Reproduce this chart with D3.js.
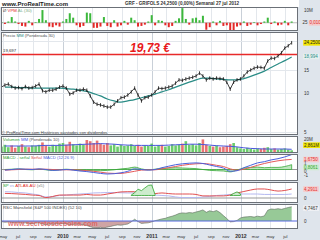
<!DOCTYPE html>
<html>
<head>
<meta charset="utf-8">
<script src="https://cdn.jsdelivr.net/npm/d3@7"></script>
<style>
body { margin: 0; background: #dfe5ec; }
svg { display: block; font-family: "Liberation Sans", Arial, sans-serif; }
</style>
</head>
<body>
<div class="grafico"></div>
<script>
// Datos GRF - GRIFOLS semanal (un punto cada 2 semanas)
var inicio = new Date(2009, 3, 24);
var etiquetasMes = ["ene", "feb", "mar", "abr", "may", "jun", "jul", "ago", "sep", "oct", "nov", "dic"];

var precio = [11.1, 11.5, 11.7, 11.2, 10.9, 11.0, 10.8, 11.2, 10.9, 11.0,
    11.3, 11.7, 10.4, 10.2, 10.5, 10.5, 10.7, 11.1, 11.3, 10.9,
    9.8, 10.0, 10.5, 10.5, 10.7, 10.5, 9.5, 8.5, 8.2, 8.1,
    7.95, 7.8, 7.8, 8.2, 8.7, 9.2, 9.3, 9.65, 10.2, 10.9,
    9.65, 8.7, 9.2, 9.3, 9.65, 10.2, 10.9, 10.8, 10.9, 11.1,
    11.3, 11.9, 12.6, 12.5, 12.8, 13.0, 13.2, 13.5, 14.2, 13.5,
    12.6, 13.0, 12.8, 13.0, 12.9, 12.8, 12.1, 10.7, 12.1, 12.6,
    12.8, 13.5, 14.5, 15.0, 15.5, 15.8, 15.7, 15.5, 17.6, 18.5,
    18.4, 19.2, 20.3, 22.1, 23.0, 24.25];
var vpm = [0.5, -1, 1, 4.5, 1, -1, -2.5, -3, 1.5, -2,
    0.5, 3, 10, 2, -3, -3.5, -2, -3, 1, 3,
    7.5, 4, -2, -3.5, -2.5, 8, 7.5, -4, -4, -3,
    4.5, -2.5, -3.5, 2, -3, -2, 1.5, -1.5, 4, 2,
    -3, -2.5, -1.5, 1, 6, -2, 2, 1.5, -2, -3.5,
    -2.5, 1.5, 3.5, 11.5, 3, -1.5, 3.5, 4, 2, 5.5,
    -5.5, -3.5, 1, -2, 1.5, -2.5, -2, -6.5, -7, -3,
    -2, 1, -2.5, -1.5, 0.5, -2, -1, 1, 4, -1,
    1, -2, -1.5, 1.5, -2, 1];
var volumen = [9, 12, 8, 11, 7, 10, 13, 9, 8, 11,
    10, 12, 16, 11, 9, 12, 10, 14, 15, 12,
    17, 13, 11, 14, 12, 20, 18, 15, 19, 14,
    12, 15, 11, 13, 9, 12, 10, 11, 13, 10,
    12, 9, 11, 10, 14, 9, 11, 12, 9, 10,
    13, 11, 12, 14, 18, 12, 13, 11, 15, 21,
    12, 10, 9, 11, 8, 9, 10, 13, 15, 8,
    6, 5, 7, 5, 4, 6, 5, 7, 8, 5,
    6, 4, 5, 6, 4, 2.861];
var rsc = [-0.2, -0.4, -0.3, -0.5, -0.6, -0.4, -0.7, -0.6, -0.8, -0.9,
    -0.7, -0.6, -1.0, -1.2, -1.0, -1.1, -0.9, -1.0, -0.8, -0.9,
    -1.3, -1.2, -1.0, -1.1, -1.3, -1.5, -1.9, -2.2, -2.3, -2.1,
    -2.3, -2.0, -1.8, -1.5, -1.3, -1.4, -1.2, -1.0, -0.3, 0.6,
    -0.2, -0.8, -0.7, -0.6, -0.3, 0.1, 0.4, 0.7, 0.9, 1.3,
    1.6, 2.0, 2.5, 2.7, 2.6, 2.8, 2.7, 3.0, 3.3, 3.7,
    2.9, 3.4, 3.1, 3.5, 2.8, 1.8, 0.8, -0.3, -0.2, 0.2,
    1.0, 1.3, 1.4, 1.5, 1.3, 1.6, 1.4, 1.7, 3.6, 4.0,
    3.9, 4.1, 3.9, 4.2, 4.5, 4.7467];

// Series suaves, un punto cada 4 semanas
var mediaPrecio = [11.1, 11.1, 11.0, 11.0, 10.9, 10.9, 10.9, 10.9, 10.9, 10.8,
    10.7, 10.5, 10.3, 9.9, 9.5, 9.0, 8.7, 8.5, 8.7, 8.9,
    9.2, 9.5, 9.8, 10.2, 10.6, 11.1, 11.6, 12.1, 12.6, 13.0,
    13.0, 12.8, 12.7, 12.6, 12.6, 12.9, 13.4, 14.0, 14.7, 15.7,
    16.7, 17.7, 18.9];
var mediaVolumen = [10, 10, 10, 10, 10, 10.5, 11, 11, 11, 11.5,
    12, 12.5, 13, 13.5, 14, 13.5, 13, 12, 11.5, 11,
    11, 11, 11, 11, 11.5, 12, 12.5, 13, 13, 12.5,
    11.5, 10.5, 10, 9.5, 8.5, 7, 6, 5.5, 5, 5,
    5, 5, 4.5];
var macd = [-0.1, 0.0, 0.1, 0.05, 0.0, 0.1, 0.0, -0.15, -0.1, 0.0,
    -0.1, -0.25, -0.35, -0.5, -0.65, -0.75, -0.7, -0.55, -0.3, 0.1,
    0.0, -0.1, 0.0, 0.3, 0.55, 0.8, 0.95, 1.05, 1.1, 1.0,
    0.75, 0.5, 0.25, -0.3, -0.2, 0.3, 0.7, 1.1, 1.3, 1.6,
    1.8, 2.1, 2.48];
var senal = [-0.1, -0.05, 0.0, 0.05, 0.05, 0.05, 0.05, 0.0, -0.05, -0.05,
    -0.05, -0.1, -0.2, -0.3, -0.45, -0.6, -0.65, -0.65, -0.5, -0.3,
    -0.1, -0.05, -0.05, 0.1, 0.3, 0.5, 0.7, 0.85, 0.95, 1.0,
    0.9, 0.7, 0.5, 0.1, -0.1, 0.05, 0.35, 0.7, 1.0, 1.25,
    1.45, 1.6, 1.675];
var histMacd = [0, 0.05, 0.1, 0, -0.05, 0.05, -0.05, -0.15, -0.05, 0.05,
    -0.05, -0.15, -0.15, -0.2, -0.2, -0.15, -0.05, 0.1, 0.2, 0.4,
    0.1, -0.05, 0.05, 0.2, 0.25, 0.3, 0.25, 0.2, 0.15, 0.0,
    -0.15, -0.2, -0.25, -0.4, -0.1, 0.25, 0.35, 0.4, 0.3, 0.35,
    0.35, 0.5, 0.8061];
var atlasRojo = [2.2, 2.1, 1.9, 1.7, 1.4, 1.2, 0.2, 0.7, 1.4, 1.4,
    1.4, 1.4, 1.7, 1.4, 1.4, 1.9, 2.4, 2.9, 3.0, 3.0,
    2.6, 1.9, 2.1, 2.4, 2.1, 1.9, 1.9, 1.9, 1.7, 1.0,
    1.0, 1.0, 1.0, 1.4, 2.4, 3.1, 3.8, 4.3, 4.3, 3.8,
    3.3, 3.6, 4.2911];
var atlasAzul = [3.0, 2.9, 2.6, 2.4, 1.9, 1.4, 0.5, 0.7, 1.2, 1.4,
    1.7, 1.9, 2.1, 2.4, 2.5, 2.6, 2.6, 2.5, 2.4, 2.4,
    1.9, 1.7, 1.4, 1.2, 1.0, 0.5, 0.2, 0.2, 0.2, 0.5,
    0.7, 1.2, 1.4, 1.7, 1.9, 1.9, 1.9, 1.9, 1.7, 1.7,
    1.7, 1.7, 1.9];
// tramos verdes del SP (indice de la quincena donde empiezan)
var spVerde1Desde = 38, spVerde1 = [1.4, 2.5, 4.2, 3.5, 4.8, 6.0, 6.2, 1.6];
var spVerde2Desde = 67, spVerde2 = [1.2, 2.2, 2.9, 2.0];

var nivel = 19.73; // linea horizontal roja
var nivelEtiqueta = "19,697";

var fmt = d3.formatLocale({ decimal: ",", thousands: ".", grouping: [3], currency: ["", "€"] });

var fechas2 = precio.map(function(d, i) { return d3.timeDay.offset(inicio, 14 * i); });
var fechas4 = macd.map(function(d, k) { return d3.timeDay.offset(inicio, 14 + 28 * k); });

var svg = d3.select(".grafico").append("svg")
    .attr("width", 320)
    .attr("height", 240);

svg.append("rect").attr("width", 320).attr("height", 240).attr("fill", "#dfe5ec");
svg.append("rect").attr("x", 0).attr("y", 0).attr("width", 299).attr("height", 7).attr("fill", "#ffffff");

var x = d3.scaleTime()
    .domain([new Date(2009, 3, 22), new Date(2012, 7, 22)])
    .range([1, 298]);

var paneles = [
    { id: "vpm", y0: 7, y1: 31 },
    { id: "precio", y0: 32, y1: 135 },
    { id: "vol", y0: 136, y1: 153 },
    { id: "macd", y0: 154, y1: 181 },
    { id: "sp", y0: 182, y1: 203 },
    { id: "rsc", y0: 204, y1: 229 }
];

var meses = d3.timeMonth.range(new Date(2009, 4, 1), new Date(2012, 7, 2), 2);

var defs = svg.append("defs");
var capas = {};
paneles.forEach(function(p) {
    svg.append("rect")
        .attr("x", 1).attr("y", p.y0)
        .attr("width", 297).attr("height", p.y1 - p.y0)
        .attr("fill", "#ffffff");
    defs.append("clipPath").attr("id", "clip-" + p.id)
        .append("rect").attr("x", 1).attr("y", p.y0).attr("width", 297).attr("height", p.y1 - p.y0);
    var g = svg.append("g").attr("clip-path", "url(#clip-" + p.id + ")");
    // rejilla vertical cada 2 meses
    g.selectAll("line.vgrid")
        .data(meses)
        .enter().append("line")
        .attr("x1", function(d) { return Math.round(x(d)) + 0.5; })
        .attr("x2", function(d) { return Math.round(x(d)) + 0.5; })
        .attr("y1", p.y0).attr("y2", p.y1)
        .attr("stroke", function(d) { return d.getMonth() === 0 ? "#c9d0d8" : "#e3e7ec"; })
        .attr("stroke-width", 1);
    capas[p.id] = g;
});

// ---------- Panel VPM ----------
var yVpm = d3.scaleLinear().domain([-6.5, 12.5]).range([31, 6.9]);
capas.vpm.append("line")
    .attr("x1", 1).attr("x2", 298)
    .attr("y1", yVpm(0)).attr("y2", yVpm(0))
    .attr("stroke", "#bbbbbb");
capas.vpm.selectAll("rect.vpm")
    .data(vpm)
    .enter().append("rect")
    .attr("x", function(d, i) { return x(fechas2[i]) - 1; })
    .attr("width", 2)
    .attr("y", function(d) { return Math.min(yVpm(d), yVpm(0)); })
    .attr("height", function(d) { return Math.abs(yVpm(d) - yVpm(0)); })
    .attr("fill", function(d) { return d >= 0 ? "#3cb83c" : "#e42828"; });

// ---------- Panel precio (escala log) ----------
var yPrecio = d3.scaleLog().domain([5, 30]).range([132.3, 30.7]);
capas.precio.selectAll("line.hgrid")
    .data([5, 10, 15, 20, 25])
    .enter().append("line")
    .attr("x1", 1).attr("x2", 298)
    .attr("y1", function(d) { return Math.round(yPrecio(d)) + 0.5; })
    .attr("y2", function(d) { return Math.round(yPrecio(d)) + 0.5; })
    .attr("stroke", "#e3e7ec");

capas.precio.append("line")
    .attr("x1", 1).attr("x2", 298)
    .attr("y1", yPrecio(nivel)).attr("y2", yPrecio(nivel))
    .attr("stroke", "#e82a2a")
    .attr("stroke-width", 1.5);

capas.precio.append("path")
    .datum(mediaPrecio)
    .attr("d", d3.line()
        .x(function(d, k) { return x(fechas4[k]); })
        .y(function(d) { return yPrecio(d); })
        .curve(d3.curveMonotoneX))
    .attr("fill", "none")
    .attr("stroke", "#2a8c86")
    .attr("stroke-width", 1.2);

capas.precio.append("path")
    .datum(precio)
    .attr("d", d3.line()
        .x(function(d, i) { return x(fechas2[i]); })
        .y(function(d) { return yPrecio(d); }))
    .attr("fill", "none")
    .attr("stroke", "#111111")
    .attr("stroke-width", 0.8);

// barras tipo OHLC
capas.precio.selectAll("line.vela")
    .data(precio)
    .enter().append("line")
    .attr("x1", function(d, i) { return x(fechas2[i]); })
    .attr("x2", function(d, i) { return x(fechas2[i]); })
    .attr("y1", function(d) { return yPrecio(d) - 1.8; })
    .attr("y2", function(d) { return yPrecio(d) + 1.8; })
    .attr("stroke", "#111111")
    .attr("stroke-width", 0.8);

svg.append("text")
    .attr("x", 130).attr("y", yPrecio(nivel) - 2)
    .attr("font-size", 12)
    .attr("font-weight", "bold")
    .attr("font-style", "italic")
    .attr("fill", "#e8191b")
    .text(fmt.format(",.2f")(nivel) + " €");

svg.append("text")
    .attr("x", 3).attr("y", yPrecio(nivel) - 2)
    .attr("font-size", 4.3)
    .attr("fill", "#333")
    .text(nivelEtiqueta);

svg.append("text")
    .attr("x", 2).attr("y", 133.5)
    .attr("font-size", 4.2)
    .attr("fill", "#444")
    .text("© ProRealTime.com  Históricos ajustados con dividendos");

// ---------- Panel volumen ----------
var yVol = d3.scaleLinear().domain([0, 28]).range([152, 135.2]);
capas.vol.selectAll("rect.vol")
    .data(volumen)
    .enter().append("rect")
    .attr("x", function(d, i) { return x(fechas2[i]) - 1.3; })
    .attr("width", 2.6)
    .attr("y", function(d) { return yVol(d); })
    .attr("height", function(d) { return yVol(0) - yVol(d); })
    .attr("fill", function(d, i) { return (i > 0 && precio[i] < precio[i - 1]) ? "#e87474" : "#6ccc6c"; });

capas.vol.append("path")
    .datum(mediaVolumen)
    .attr("d", d3.line()
        .x(function(d, k) { return x(fechas4[k]); })
        .y(function(d) { return yVol(d); })
        .curve(d3.curveMonotoneX))
    .attr("fill", "none")
    .attr("stroke", "#4a55dd")
    .attr("stroke-width", 1);

// ---------- Panel MACD ----------
var yMacd = d3.scaleLinear().domain([-2, 2.5]).range([181.5, 154.5]);
capas.macd.append("line")
    .attr("x1", 1).attr("x2", 298)
    .attr("y1", yMacd(0)).attr("y2", yMacd(0))
    .attr("stroke", "#999");
capas.macd.append("path")
    .datum(histMacd)
    .attr("d", d3.area()
        .x(function(d, k) { return x(fechas4[k]); })
        .y0(yMacd(0))
        .y1(function(d) { return yMacd(d); })
        .curve(d3.curveMonotoneX))
    .attr("fill", "#bfe6bf")
    .attr("stroke", "#3aaa3a")
    .attr("stroke-width", 0.8);

function lineaSuave(g, datos, escala, color, ancho) {
    g.append("path")
        .datum(datos)
        .attr("d", d3.line()
            .x(function(d, k) { return x(fechas4[k]); })
            .y(function(d) { return escala(d); })
            .curve(d3.curveMonotoneX))
        .attr("fill", "none")
        .attr("stroke", color)
        .attr("stroke-width", ancho);
}
lineaSuave(capas.macd, senal, yMacd, "#e65a5a", 1);
lineaSuave(capas.macd, macd, yMacd, "#4a60dd", 1);

// ---------- Panel SP vs ATLAS ----------
var ySp = d3.scaleLinear().domain([-2, 8]).range([202.2, 181.2]);
capas.sp.append("line")
    .attr("x1", 1).attr("x2", 298)
    .attr("y1", ySp(0)).attr("y2", ySp(0))
    .attr("stroke", "#999");
lineaSuave(capas.sp, atlasAzul, ySp, "#b4b8f0", 1);
lineaSuave(capas.sp, atlasRojo, ySp, "#e25050", 1);

[[spVerde1Desde, spVerde1], [spVerde2Desde, spVerde2]].forEach(function(tramo) {
    var desde = tramo[0];
    capas.sp.append("path")
        .datum(tramo[1])
        .attr("d", d3.area()
            .x(function(d, j) { return x(fechas2[desde + j]); })
            .y0(ySp(1.2))
            .y1(function(d) { return ySp(d); }))
        .attr("fill", "#cdeccd")
        .attr("stroke", "#2fa52f")
        .attr("stroke-width", 0.8);
});

// ---------- Panel RSC Mansfield ----------
var yRsc = d3.scaleLinear().domain([-2.5, 5.5]).range([228.5, 204.5]);
var areaRsc = d3.area()
    .x(function(d, i) { return x(fechas2[i]); })
    .y0(yRsc(0))
    .y1(function(d) { return yRsc(d); });
defs.append("clipPath").attr("id", "rsc-pos")
    .append("rect").attr("x", 1).attr("y", 204).attr("width", 297).attr("height", yRsc(0) - 204);
defs.append("clipPath").attr("id", "rsc-neg")
    .append("rect").attr("x", 1).attr("y", yRsc(0)).attr("width", 297).attr("height", 229 - yRsc(0));
capas.rsc.append("path").datum(rsc).attr("d", areaRsc)
    .attr("clip-path", "url(#rsc-pos)").attr("fill", "#97c997");
capas.rsc.append("path").datum(rsc).attr("d", areaRsc)
    .attr("clip-path", "url(#rsc-neg)").attr("fill", "#cfa4a4");
capas.rsc.append("path")
    .datum(rsc)
    .attr("d", d3.line()
        .x(function(d, i) { return x(fechas2[i]); })
        .y(function(d) { return yRsc(d); }))
    .attr("fill", "none")
    .attr("stroke", "#5a6a5a")
    .attr("stroke-width", 0.6);
capas.rsc.append("line")
    .attr("x1", 1).attr("x2", 298)
    .attr("y1", yRsc(0)).attr("y2", yRsc(0))
    .attr("stroke", "#5566e0");
svg.append("text")
    .attr("x", 8).attr("y", 226)
    .attr("font-size", 7)
    .attr("font-weight", "bold")
    .attr("fill", "#e05a5a")
    .attr("fill-opacity", 0.85)
    .text("www.secretosdebolsa.com");

// bordes de los paneles
paneles.forEach(function(p) {
    svg.append("rect")
        .attr("x", 1.5).attr("y", p.y0 + 0.5)
        .attr("width", 296).attr("height", p.y1 - p.y0 - 1)
        .attr("fill", "none")
        .attr("stroke", "#6b7077")
        .attr("stroke-width", 1);
});

// titulos de los paneles
function titulo(y, partes) {
    var t = svg.append("text").attr("x", 3).attr("y", y).attr("font-size", 4.3);
    partes.forEach(function(p) {
        t.append("tspan").attr("fill", p[1]).text(p[0]);
    });
}
titulo(11.5, [["Ø ", "#555"], ["VPM", "#e02424"], [" AL (30)", "#7aa87a"]]);
titulo(37, [["Precio ", "#555"], ["MM", "#2a8c86"], [" (Ponderada 30)", "#555"]]);
titulo(141, [["Volumen ", "#33a033"], ["MM", "#4a55dd"], [" (Ponderada 10)", "#555"]]);
titulo(159, [["MACD - señal ", "#33a033"], ["Señal ", "#e05050"], ["MACD (12 26 9)", "#4a60dd"]]);
titulo(187, [["SP ", "#2fa52f"], ["vs ", "#9aa0e8"], ["ATLAS.AU", "#e02424"], [" (x5)", "#777"]]);
titulo(209, [["RSC Mansfield (S&P 500 INDEX) (52 10)", "#444"]]);

// cabecera
svg.append("text").attr("x", 2).attr("y", 5.5)
    .attr("font-size", 6).attr("font-weight", "bold").attr("fill", "#222")
    .text("www.ProRealTime.com");
svg.append("text").attr("x", 125).attr("y", 5)
    .attr("font-size", 4.6).attr("font-weight", "bold").attr("fill", "#333")
    .text("GRF - GRIFOLS     " + fmt.format(",.4f")(precio[precio.length - 1]) + " (0,00%)     Semanal 27 jul 2012");

// etiquetas del eje derecho
function etiquetaDer(y, texto, fondo, color, xPos) {
    var g = svg.append("g");
    var t = g.append("text")
        .attr("x", xPos || 304).attr("y", y)
        .attr("dy", "0.35em")
        .attr("font-size", 4.5)
        .attr("fill", color || "#333")
        .text(texto);
    if (fondo) {
        var bb = t.node().getBBox();
        g.insert("rect", "text")
            .attr("x", bb.x - 0.8).attr("y", bb.y - 0.3)
            .attr("width", bb.width + 1.6).attr("height", bb.height + 0.6)
            .attr("fill", fondo);
    }
}
etiquetaDer(yVpm(10), "10M");
etiquetaDer(yVpm(0), "25", null, "#333", 302.5);
etiquetaDer(yVpm(0), "0,010", "#f6caca", "#e03030", 309.5);
[5, 10, 15].forEach(function(v) { etiquetaDer(yPrecio(v), String(v)); });
etiquetaDer(yPrecio(precio[precio.length - 1]), fmt.format(",.4f")(precio[precio.length - 1]), "#f2e600", "#222");
etiquetaDer(yPrecio(mediaPrecio[mediaPrecio.length - 1]) - 0.5, "18,994", "#e6f1f0", "#2a8c86");
etiquetaDer(yVol(21.5), "20M");
etiquetaDer(yVol(11.5), fmt.format(",.3f")(volumen[volumen.length - 1]) + "M", "#f2e600", "#222");
etiquetaDer(yMacd(1.675) , fmt.format(",.4f")(senal[senal.length - 1]), "#f6caca", "#e03030");
etiquetaDer(yMacd(1), "1");
etiquetaDer(yMacd(0.35), fmt.format(",.4f")(histMacd[histMacd.length - 1]), "#cdeccd", "#2fa52f");
etiquetaDer(yMacd(-0.3), "0");
etiquetaDer(yMacd(-1), "-1");
etiquetaDer(ySp(atlasRojo[atlasRojo.length - 1]), fmt.format(",.4f")(atlasRojo[atlasRojo.length - 1]), "#f6caca", "#e03030");
etiquetaDer(ySp(0), "0");
etiquetaDer(yRsc(4.3), fmt.format(",.4f")(rsc[rsc.length - 1]), "#eef0f4", "#333");
etiquetaDer(yRsc(0), "0");

// eje temporal
svg.selectAll("text.mes")
    .data(meses)
    .enter().append("text")
    .attr("x", function(d) { return x(d); })
    .attr("y", 237.5)
    .attr("text-anchor", "middle")
    .attr("font-size", function(d) { return d.getMonth() === 0 ? 5.2 : 4.3; })
    .attr("font-weight", function(d) { return d.getMonth() === 0 ? "bold" : "normal"; })
    .attr("fill", "#333")
    .text(function(d) { return d.getMonth() === 0 ? d.getFullYear() : etiquetasMes[d.getMonth()]; });
</script>
</body>
</html>
